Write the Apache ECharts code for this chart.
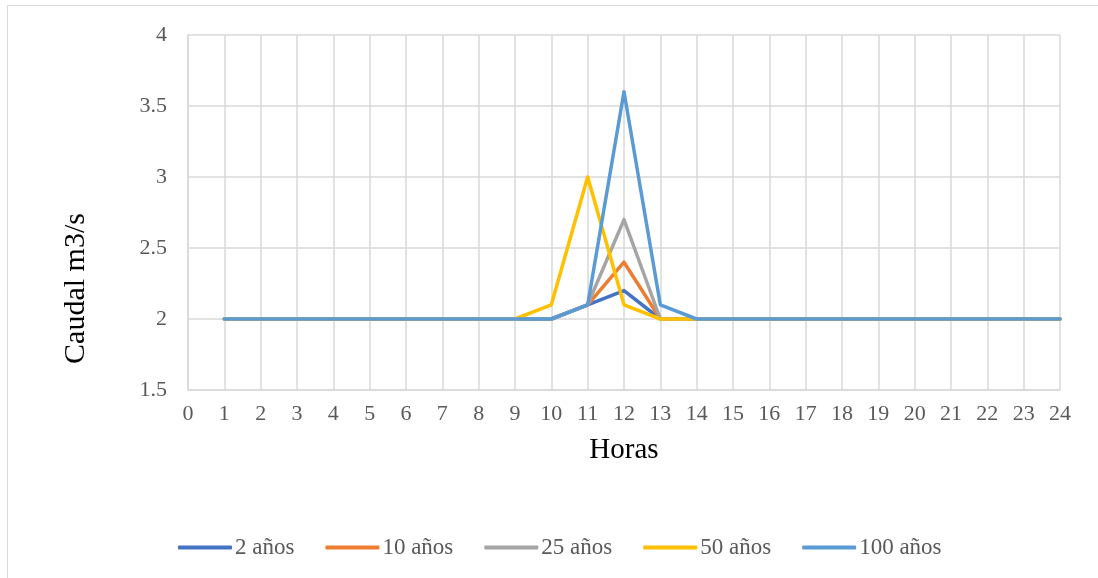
<!DOCTYPE html>
<html>
<head>
<meta charset="utf-8">
<script src="https://cdn.jsdelivr.net/npm/echarts@6/dist/echarts.min.js"></script>
<style>
html,body{margin:0;padding:0;background:#fff;}
#chart{width:1098px;height:578px;}
</style>
</head>
<body>
<div id="chart"></div>
<script>
var hours = [1,2,3,4,5,6,7,8,9,10,11,12,13,14,15,16,17,18,19,20,21,22,23,24];
var seriesNames = ['2 años','10 años','25 años','50 años','100 años'];
var v2   = [2,2,2,2,2,2,2,2,2,2,2.1,2.2,2.0,2,2,2,2,2,2,2,2,2,2,2];
var v10  = [2,2,2,2,2,2,2,2,2,2,2.1,2.4,2.0,2,2,2,2,2,2,2,2,2,2,2];
var v25  = [2,2,2,2,2,2,2,2,2,2,2.1,2.7,2.0,2,2,2,2,2,2,2,2,2,2,2];
var v50  = [2,2,2,2,2,2,2,2,2,2.1,3.0,2.1,2.0,2,2,2,2,2,2,2,2,2,2,2];
var v100 = [2,2,2,2,2,2,2,2,2,2,2.1,3.6,2.1,2.0,2,2,2,2,2,2,2,2,2,2];
var colors = ['#4472C4','#ED7D31','#A5A5A5','#FFC000','#5B9BD5'];
var allValues = [v2, v10, v25, v50, v100];

var font = '"Liberation Serif", "Times New Roman", serif';
var chart = echarts.init(document.getElementById('chart'));
var series = seriesNames.map(function(name, i){
  return {
    name: name,
    type: 'line',
    data: hours.map(function(h, j){ return [h, allValues[i][j]]; }),
    showSymbol: false,
    symbol: 'none',
    lineStyle: {width: 3.5, color: colors[i], cap: 'round', join: 'round'},
    itemStyle: {color: colors[i]},
    z: 2 + i,
    animation: false
  };
});
chart.setOption({
  animation: false,
  backgroundColor: '#ffffff',
  graphic: [{
    type: 'rect',
    shape: {x: 7.5, y: 5.5, width: 1200, height: 800},
    style: {fill: 'none', stroke: '#d9d9d9', lineWidth: 1},
    silent: true
  }],
  grid: {left: 188, right: 38, top: 35, bottom: 188, containLabel: false},
  legend: {
    top: 531,
    left: 173,
    itemWidth: 54,
    itemHeight: 4,
    itemGap: 31,
    icon: 'roundRect',
    textStyle: {fontFamily: font, fontSize: 23, color: '#595959', padding: [0,0,0,-2]},
    data: seriesNames
  },
  xAxis: {
    type: 'value',
    min: 0, max: 24, interval: 1,
    name: 'Horas',
    nameLocation: 'middle',
    nameGap: 46,
    nameTextStyle: {fontFamily: font, fontSize: 29, color: '#000'},
    axisLine: {show: true, lineStyle: {color: '#d9d9d9', width: 1.5}},
    axisTick: {show: false},
    axisLabel: {fontFamily: font, fontSize: 22, color: '#595959', margin: 13},
    splitLine: {show: true, lineStyle: {color: '#d9d9d9', width: 1.5}}
  },
  yAxis: {
    type: 'value',
    min: 1.5, max: 4, interval: 0.5,
    name: 'Caudal m3/s',
    nameLocation: 'middle',
    nameGap: 97,
    nameTextStyle: {fontFamily: font, fontSize: 30, color: '#000', padding: [0, 152, 0, 0]},
    axisLine: {show: true, lineStyle: {color: '#d9d9d9', width: 1.5}},
    axisTick: {show: false},
    axisLabel: {fontFamily: font, fontSize: 22, color: '#595959', margin: 21},
    splitLine: {show: true, lineStyle: {color: '#d9d9d9', width: 1.5}}
  },
  series: series
});
</script>
</body>
</html>
